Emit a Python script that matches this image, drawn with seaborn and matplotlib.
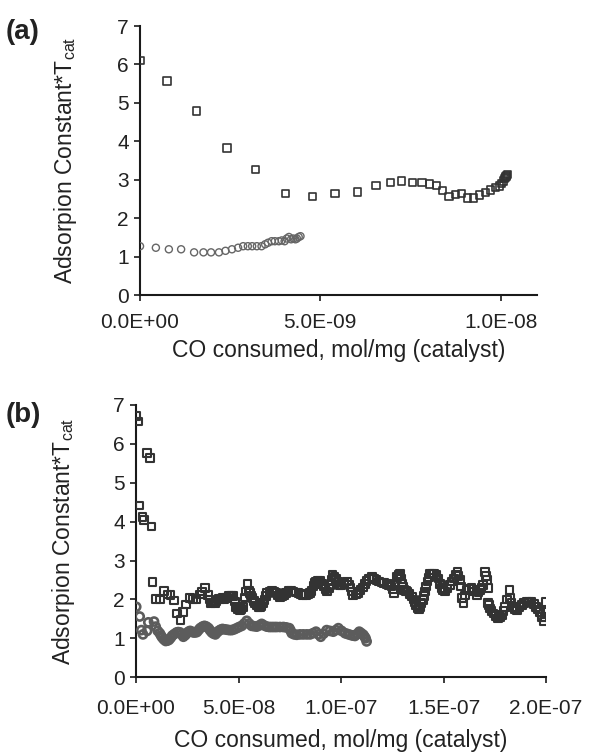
import numpy as np
import matplotlib
matplotlib.use("Agg")
import matplotlib.pyplot as plt
import seaborn as sns
from matplotlib.ticker import FuncFormatter, MultipleLocator

# ---- panel (a): CO consumed in 1e-9 mol/mg
a_sq_x = [0.00, 0.75, 1.57, 2.41, 3.20, 4.04, 4.79, 5.41, 6.03, 6.54, 6.94, 7.25, 7.55, 7.82,
          8.02, 8.23, 8.39, 8.57, 8.74, 8.92, 9.09, 9.24, 9.41, 9.58, 9.72, 9.85, 9.96, 10.03,
          10.08, 10.11, 10.13, 10.15, 10.17, 10.19]
a_sq_y = [6.10, 5.57, 4.79, 3.83, 3.26, 2.64, 2.56, 2.64, 2.68, 2.85, 2.93, 2.97, 2.93, 2.93,
          2.89, 2.85, 2.72, 2.56, 2.61, 2.65, 2.52, 2.52, 2.60, 2.66, 2.73, 2.79, 2.84, 2.90,
          2.97, 3.03, 3.06, 3.09, 3.11, 3.13]
a_ci_x = [0.00, 0.44, 0.80, 1.14, 1.50, 1.76, 1.97, 2.19, 2.37, 2.55, 2.72, 2.86, 2.99, 3.11,
          3.24, 3.37, 3.47, 3.55, 3.65, 3.74, 3.85, 3.93, 4.01, 4.07, 4.13, 4.19, 4.25, 4.31,
          4.35, 4.40, 4.45]
a_ci_y = [1.27, 1.23, 1.19, 1.19, 1.11, 1.11, 1.11, 1.11, 1.15, 1.19, 1.23, 1.27, 1.27, 1.27,
          1.27, 1.27, 1.32, 1.36, 1.40, 1.40, 1.40, 1.42, 1.40, 1.47, 1.51, 1.45, 1.47, 1.45,
          1.47, 1.51, 1.53]

# ---- panel (b): CO consumed in 1e-8 mol/mg
b_sq_x = [0.01, 0.13, 0.18, 0.31, 0.39, 0.54, 0.67, 0.75, 0.81, 0.99, 1.16, 1.37, 1.53, 1.69,
          1.84, 2.01, 2.18, 2.29, 2.45, 2.62, 2.78, 2.94, 3.11, 3.22, 3.38,
          3.51, 3.59, 3.67, 3.75, 3.84, 3.90, 3.97, 4.05, 4.13, 4.21, 4.29, 4.37, 4.45, 4.53,
          4.62, 4.68, 4.75, 4.82, 4.89, 4.98, 5.07, 5.15, 5.23, 5.30, 5.37, 5.43, 5.50, 5.56,
          5.62, 5.69, 5.75, 5.80, 5.88, 5.97, 6.05, 6.13, 6.20, 6.26, 6.33, 6.40, 6.51, 6.62,
          6.74, 6.86, 6.94, 7.02, 7.12, 7.22, 7.33, 7.43, 7.55, 7.67, 7.80, 7.92, 8.04, 8.16,
          8.29, 8.41, 8.49, 8.57, 8.65, 8.72, 8.78, 8.88, 8.98, 9.08, 9.17, 9.25, 9.32, 9.40,
          9.46, 9.53, 9.59, 9.68, 9.76, 9.84, 9.92, 10.03, 10.15, 10.28, 10.38, 10.47, 10.53,
          10.60, 10.72, 10.84, 10.95, 11.06, 11.16, 11.25, 11.38, 11.50, 11.62, 11.74, 11.86,
          11.99, 12.11, 12.23, 12.35, 12.47, 12.53, 12.59, 12.66, 12.72, 12.80, 12.88, 12.93,
          12.98, 13.03, 13.07, 13.16, 13.24, 13.35, 13.45, 13.53, 13.61, 13.67, 13.73, 13.79,
          13.85, 13.92, 13.99, 14.05, 14.10, 14.16, 14.21, 14.28, 14.34, 14.44, 14.54, 14.65,
          14.75, 14.83, 14.91, 14.99, 15.07, 15.20, 15.32, 15.42, 15.51, 15.60, 15.68, 15.74,
          15.80, 15.84, 15.89, 15.97, 16.05, 16.13, 16.25, 16.37, 16.50, 16.62, 16.70, 16.78,
          16.86, 16.94, 17.02, 17.06, 17.11, 17.16, 17.19, 17.23, 17.27, 17.35, 17.43, 17.55,
          17.67, 17.75, 17.84, 17.92, 18.00, 18.10, 18.21, 18.24, 18.32, 18.41, 18.50, 18.60,
          18.71, 18.82, 18.94, 19.06, 19.18, 19.30, 19.40, 19.51, 19.61, 19.71, 19.79, 19.87,
          19.94, 20.00, 20.00]
b_sq_y = [6.72, 6.57, 4.41, 4.12, 4.04, 5.76, 5.63, 3.87, 2.44, 2.01, 2.00, 2.22, 2.13, 2.11,
          1.97, 1.64, 1.47, 1.68, 1.87, 2.03, 2.01, 2.00, 2.13, 2.20, 2.30,
          2.11, 2.00, 1.90, 1.92, 1.90, 1.95, 2.00, 2.02, 2.01, 2.03, 2.01, 2.05, 2.04, 2.08,
          2.08, 2.10, 2.08, 1.95, 1.81, 1.75, 1.73, 1.76, 1.81, 2.05, 2.20, 2.41, 2.22, 2.16,
          2.10, 2.03, 1.96, 1.90, 1.84, 1.80, 1.80, 1.83, 1.90, 1.98, 2.08, 2.16, 2.20, 2.22,
          2.20, 2.16, 2.10, 2.05, 2.08, 2.11, 2.17, 2.22, 2.21, 2.20, 2.18, 2.16, 2.14, 2.11,
          2.12, 2.13, 2.17, 2.22, 2.34, 2.42, 2.46, 2.48, 2.48, 2.40, 2.33, 2.26, 2.20, 2.28,
          2.37, 2.50, 2.63, 2.58, 2.52, 2.44, 2.37, 2.37, 2.42, 2.46, 2.38, 2.31, 2.20,
          2.11, 2.13, 2.16, 2.24, 2.31, 2.40, 2.48, 2.53, 2.57, 2.54, 2.50, 2.46,
          2.43, 2.42, 2.40, 2.37, 2.33, 2.25, 2.16, 2.40, 2.58, 2.62, 2.65, 2.52,
          2.41, 2.32, 2.24, 2.22, 2.20, 2.14, 2.07, 2.00, 1.94, 1.85, 1.77, 1.75,
          1.81, 1.90, 1.98, 2.09, 2.20, 2.33, 2.46, 2.56, 2.65, 2.66, 2.67, 2.62,
          2.54, 2.40, 2.29, 2.24, 2.20, 2.28, 2.37, 2.46, 2.54, 2.62, 2.71, 2.60,
          2.50, 2.33, 2.03, 1.90, 2.10, 2.24, 2.27, 2.29, 2.20, 2.11, 2.18, 2.24,
          2.30, 2.37, 2.71, 2.60, 2.50, 1.90, 2.29, 1.85, 1.77, 1.70, 1.64, 1.57,
          1.51, 1.55, 1.60, 1.70, 1.81, 2.00, 2.24, 2.03, 1.90, 1.81, 1.76, 1.73,
          1.80, 1.86, 1.90, 1.94, 1.95, 1.94, 1.88, 1.81, 1.74, 1.68, 1.55, 1.43,
          1.55, 1.68, 1.94]
b_ci_x = [0.01, 0.18, 0.26, 0.34, 0.54, 0.60, 0.88, 0.96, 1.06, 1.16, 1.22, 1.28, 1.36, 1.45,
          1.53, 1.61, 1.69, 1.77, 1.87, 1.98, 2.06, 2.15, 2.23, 2.31, 2.40, 2.48, 2.56, 2.64,
          2.72, 2.80, 2.88, 2.97, 3.05, 3.13, 3.24, 3.34, 3.44, 3.54, 3.62, 3.70, 3.78, 3.87,
          3.95, 4.03, 4.12, 4.22, 4.33, 4.44, 4.55, 4.67, 4.79, 4.91, 5.03, 5.16, 5.28, 5.40,
          5.52, 5.64, 5.76, 5.89, 6.01, 6.13, 6.25, 6.38, 6.50, 6.62, 6.74, 6.86, 7.02, 7.19,
          7.33, 7.48, 7.54, 7.60, 7.72, 7.84, 8.00, 8.16, 8.33, 8.49, 8.63, 8.78, 8.90, 9.01,
          9.15, 9.30, 9.46, 9.62, 9.75, 9.87, 10.03, 10.20, 10.32, 10.44, 10.56, 10.68, 10.78,
          10.89, 10.99, 11.09, 11.15, 11.20, 11.25]
b_ci_y = [1.81, 1.56, 1.21, 1.10, 1.19, 1.41, 1.43, 1.30, 1.19, 1.13, 1.07, 1.02, 0.97, 0.93,
          0.94, 0.96, 1.01, 1.07, 1.11, 1.15, 1.16, 1.15, 1.10, 1.04, 1.08, 1.13, 1.17, 1.19,
          1.17, 1.15, 1.15, 1.16, 1.21, 1.26, 1.30, 1.32, 1.30, 1.26, 1.20, 1.15, 1.12, 1.10,
          1.15, 1.19, 1.22, 1.24, 1.23, 1.22, 1.21, 1.21, 1.23, 1.26, 1.29, 1.32, 1.38, 1.45,
          1.38, 1.32, 1.31, 1.30, 1.33, 1.37, 1.33, 1.30, 1.29, 1.29, 1.29, 1.29, 1.29, 1.29,
          1.28, 1.26, 1.20, 1.13, 1.10, 1.09, 1.10, 1.10, 1.10, 1.10, 1.13, 1.17, 1.10, 1.04,
          1.12, 1.21, 1.19, 1.17, 1.21, 1.26, 1.19, 1.13, 1.11, 1.09, 1.07, 1.06, 1.11,
          1.17, 1.13, 1.09, 1.04, 1.00, 0.92]

sns.set_style("ticks")
plt.rcParams['font.family'] = ['Liberation Sans', 'DejaVu Sans']
plt.rcParams['mathtext.fontset'] = 'custom'
plt.rcParams['mathtext.rm'] = 'Liberation Sans'

fig = plt.figure(figsize=(5.89, 7.52), dpi=100)
ax_a = fig.add_axes([0.2377, 0.6077, 0.6735, 0.3577])
ax_b = fig.add_axes([0.2309, 0.0995, 0.6961, 0.3620])

sq_col = '#333333'
ci_col = '#666666'

sns.scatterplot(x=np.array(a_sq_x) * 1e-9, y=a_sq_y, ax=ax_a, marker='s', s=28,
                facecolors='none', edgecolor=sq_col, linewidth=1.2, zorder=3)
sns.scatterplot(x=np.array(a_ci_x) * 1e-9, y=a_ci_y, ax=ax_a, marker='o', s=26,
                facecolors='none', edgecolor=ci_col, linewidth=1.0, zorder=3)
sns.scatterplot(x=np.array(b_sq_x) * 1e-8, y=b_sq_y, ax=ax_b, marker='s', s=30,
                facecolors='none', edgecolor=sq_col, linewidth=1.5, zorder=3)
sns.scatterplot(x=np.array(b_ci_x) * 1e-8, y=b_ci_y, ax=ax_b, marker='o', s=34,
                facecolors='none', edgecolor='#5c5c5c', linewidth=1.9, zorder=3)

ylab = 'Adsorpion Constant*T$_{\\mathregular{cat}}$'
xlab = 'CO consumed, mol/mg (catalyst)'
fmt = FuncFormatter(lambda v, p: f"{v:.1E}")

for ax, xmax, step, ylc, xlc, xpad in [(ax_a, 1.1e-8, 5e-9, -0.155, -0.165, 9),
                                       (ax_b, 2.0e-7, 5e-8, -0.145, -0.19, 12)]:
    ax.set_xlim(0, xmax)
    ax.set_ylim(0, 7)
    ax.xaxis.set_major_locator(MultipleLocator(step))
    ax.yaxis.set_major_locator(MultipleLocator(1))
    ax.xaxis.set_major_formatter(fmt)
    sns.despine(ax=ax)
    for sp in ['left', 'bottom']:
        ax.spines[sp].set_linewidth(1.5)
        ax.spines[sp].set_color('#1a1a1a')
    ax.tick_params(axis='both', direction='out', length=4, width=1.2, color='#1a1a1a',
                   labelsize=15, labelcolor='#222222')
    ax.tick_params(axis='x', pad=xpad)
    ax.tick_params(axis='y', pad=4)
    ax.set_ylabel(ylab, fontsize=16.5, color='#222222')
    ax.set_xlabel(xlab, fontsize=16.5, color='#222222')
    ax.yaxis.set_label_coords(ylc, 0.5)
    ax.xaxis.set_label_coords(0.5, xlc)

fig.text(0.010, 0.975, '(a)', fontsize=20, fontweight='bold', va='top', ha='left', color='#222222')
fig.text(0.010, 0.465, '(b)', fontsize=20, fontweight='bold', va='top', ha='left', color='#222222')

fig.savefig('out.png', dpi=100)
